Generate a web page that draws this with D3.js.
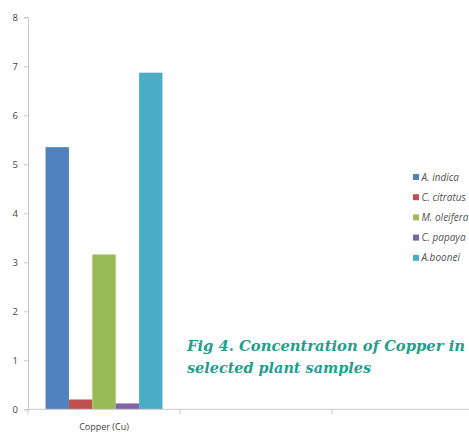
<!DOCTYPE html>
<html>
<head>
<meta charset="utf-8">
<script src="https://cdn.jsdelivr.net/npm/d3@7"></script>
<style>
  html, body { margin: 0; padding: 0; background: #fff; }
  svg { display: block; }
</style>
</head>
<body>
<svg id="chart" width="469" height="432"></svg>
<script>
// Copper concentration per plant sample
const categories = ["Copper (Cu)", "", ""];
const seriesNames = ["A. indica", "C. citratus", "M. oleifera", "C. papaya", "A.boonei"];
const seriesColors = ["#4f81bd", "#c0504d", "#9bbb59", "#8064a2", "#4bacc6"];
const copperValues = [5.35, 0.2, 3.16, 0.12, 6.87];
const yTicks = [0, 1, 2, 3, 4, 5, 6, 7, 8];
const titleLines = ["Fig 4. Concentration of Copper in", "selected plant samples"];

const svg = d3.select("#chart");
const plot = { left: 28, right: 484, top: 17.3, bottom: 409.3 };

const y = d3.scaleLinear().domain([0, 8]).range([plot.bottom, plot.top]);
const x = d3.scaleBand().domain(categories.map((c, i) => i)).range([plot.left, plot.right]).paddingInner(0).paddingOuter(0);
const inner = d3.scaleBand().domain(seriesNames).range([0, x.bandwidth()]).paddingOuter(0.75).paddingInner(0);

const axisColor = "#c8c8c8";
const labelColor = "#444";

// Y axis
const yAxis = svg.append("g")
  .attr("transform", `translate(${plot.left},0)`)
  .call(d3.axisLeft(y).tickValues(yTicks).tickSize(4).tickPadding(6).tickFormat(d3.format("d")));
yAxis.select(".domain").attr("stroke", axisColor);
yAxis.selectAll(".tick line").attr("stroke", axisColor);
yAxis.selectAll(".tick text").attr("fill", labelColor)
  .attr("font-family", "'Open Sans', 'DejaVu Sans', sans-serif").attr("font-size", 9.5);

// Bars
const group = svg.append("g").attr("transform", `translate(${x(0)},0)`);
group.selectAll("rect").data(copperValues).join("rect")
  .attr("x", (d, i) => inner(seriesNames[i]))
  .attr("width", inner.bandwidth())
  .attr("y", d => y(d))
  .attr("height", d => y(0) - y(d))
  .attr("fill", (d, i) => seriesColors[i]);

// X axis with ticks between categories
const xAxis = svg.append("g").attr("transform", `translate(0,${plot.bottom})`);
xAxis.append("line").attr("x1", plot.left).attr("x2", plot.right).attr("stroke", axisColor);
xAxis.selectAll("line.tk").data(categories.map((c, i) => i).concat([categories.length]))
  .join("line").attr("class", "tk")
  .attr("x1", i => plot.left + i * x.step()).attr("x2", i => plot.left + i * x.step())
  .attr("y1", 0).attr("y2", 5).attr("stroke", axisColor);
xAxis.selectAll("text").data(categories).join("text")
  .attr("x", (c, i) => x(i) + x.bandwidth() / 2)
  .attr("y", 21)
  .attr("text-anchor", "middle")
  .attr("fill", labelColor)
  .attr("font-family", "'Open Sans', 'DejaVu Sans', sans-serif")
  .attr("font-size", 9)
  .text(c => c);

// Legend
const legend = svg.append("g").attr("transform", "translate(413,177)");
const rows = legend.selectAll("g").data(seriesNames).join("g")
  .attr("transform", (d, i) => `translate(0,${i * 20.2})`);
rows.append("rect").attr("x", 0).attr("y", -3).attr("width", 6).attr("height", 6)
  .attr("fill", (d, i) => seriesColors[i]);
rows.append("text").attr("x", 8.5).attr("y", 3.5)
  .attr("fill", "#555")
  .attr("font-family", "'Open Sans', 'DejaVu Sans', sans-serif")
  .attr("font-style", "italic")
  .attr("font-size", 10)
  .text(d => d);

// Figure caption
const captionWidths = [278, 184];
svg.append("g").selectAll("text").data(titleLines).join("text")
  .attr("x", 187)
  .attr("y", (d, i) => 351 + i * 22)
  .attr("fill", "#1fa08c")
  .attr("font-family", "'DejaVu Serif', 'Liberation Serif', serif")
  .attr("font-weight", "bold")
  .attr("font-style", "italic")
  .attr("font-size", 14.6)
  .attr("textLength", (d, i) => captionWidths[i])
  .attr("lengthAdjust", "spacingAndGlyphs")
  .text(d => d);
</script>
</body>
</html>
